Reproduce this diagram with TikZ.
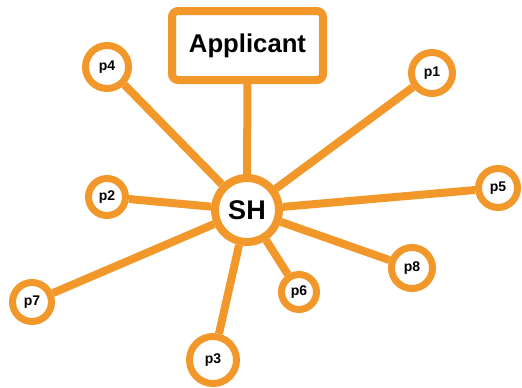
\documentclass[tikz,border=0pt]{standalone}
\usepackage{fontspec}
\setmainfont{Liberation Sans}
\usetikzlibrary{arrows, shapes, positioning}
\definecolor{hubOrange}{RGB}{242,152,42}

\begin{document}
\begin{tikzpicture}[
            x = 1pt, y = -1pt, % pixel-like units
            line width = 8pt, % thick orange strokes
            draw = hubOrange,
        ]
 \tikzstyle{leafstyle}=[
             shape = circle,
            draw = hubOrange,
            line width = 7pt,
            fill = white,
            inner sep = 0pt,
            font = \fontsize{14}{16}\selectfont\bfseries
        ]
 \tikzstyle{hubstyle}=[
             leafstyle,
            line width = 8pt,
            minimum size = 64pt,
            font = \fontsize{27}{30}\selectfont\bfseries
        ]
 \tikzstyle{boxstyle}=[
             shape = rectangle,
            draw = hubOrange,
            line width = 8pt,
            rounded corners = 6pt,
            fill = white,
            minimum width = 151pt,
            minimum height = 69pt,
            font = \fontsize{25.7}{30}\selectfont\bfseries
        ]
\useasboundingbox (0,0) rectangle (522,388);
\node[boxstyle](app) at (247.5,45.5){Applicant};
\node[hubstyle](SH) at (247,210){SH};
\node[leafstyle, minimum size = 43pt](p4) at (107,67){p4};
\node[leafstyle, minimum size = 41pt](p1) at (432,73){p1};
\node[leafstyle, minimum size = 37pt](p2) at (107,197){p2};
\node[leafstyle, minimum size = 39pt](p5) at (498,188){p5};
\node[leafstyle, minimum size = 41pt](p8) at (412,268){p8};
\node[leafstyle, minimum size = 35pt](p6) at (299,292){p6};
\node[leafstyle, minimum size = 39pt](p7) at (32,302){p7};
\node[leafstyle, minimum size = 47pt](p3) at (213,360){p3};
\path[draw = hubOrange] (SH) edge (app);
\foreach \leaf in {p1,p2,p3,p4,p5,p6,p7,p8}
  \path[draw = hubOrange] (SH) edge (\leaf);
\end{tikzpicture}
\end{document}
